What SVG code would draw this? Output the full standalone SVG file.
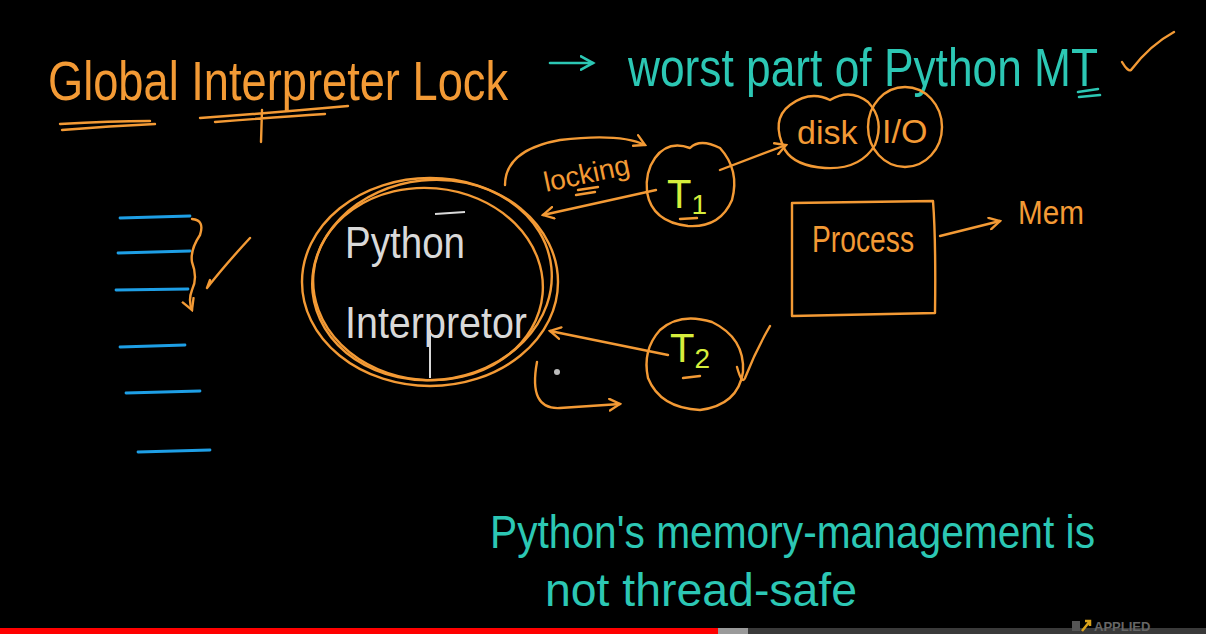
<svg xmlns="http://www.w3.org/2000/svg" width="1206" height="634" viewBox="0 0 1206 634">
<defs>
<style>
.o{fill:none;stroke:#F39A35;stroke-width:2.4;stroke-linecap:round;stroke-linejoin:round}
.t{fill:none;stroke:#2CC7B4;stroke-width:2.6;stroke-linecap:round;stroke-linejoin:round}
.b{fill:none;stroke:#1E9FE6;stroke-width:2.8;stroke-linecap:round}
.txo{fill:#F39A35;font-family:"Liberation Sans",sans-serif}
.txt{fill:#2CC7B4;font-family:"Liberation Sans",sans-serif}
.txw{fill:#D9D9D9;font-family:"Liberation Sans",sans-serif}
.txy{fill:#D6EE3C;font-family:"Liberation Sans",sans-serif}
</style>
<marker id="ah" viewBox="0 0 12 12" refX="10" refY="6" markerWidth="14" markerHeight="14" markerUnits="userSpaceOnUse" orient="auto">
<path d="M1,1 L10,6 L1,11" fill="none" stroke="#F39A35" stroke-width="2" stroke-linecap="round"/>
</marker>
<marker id="aht" viewBox="0 0 12 12" refX="10" refY="6" markerWidth="16" markerHeight="16" markerUnits="userSpaceOnUse" orient="auto">
<path d="M1,1 L10,6 L1,11" fill="none" stroke="#2CC7B4" stroke-width="2" stroke-linecap="round"/>
</marker>
</defs>
<rect width="1206" height="634" fill="#000"/>

<g id="title">
<text class="txo" x="48" y="100" font-size="56" textLength="460" lengthAdjust="spacingAndGlyphs">Global Interpreter Lock</text>
<path class="o" d="M60,124 Q110,121 150,121 M62,130 Q110,126 155,124"/>
<path class="o" d="M200,118 Q270,113 348,106 M215,122 Q280,117 325,114 M262,110 L261,142"/>
</g>

<g id="headline">
<path class="t" d="M550,63 L593,63" marker-end="url(#aht)"/>
<text class="txt" x="628" y="86" font-size="54" textLength="470" lengthAdjust="spacingAndGlyphs">worst part of Python MT</text>
<path class="t" d="M1078,92 L1098,89 M1079,97 L1100,95"/>
<path class="o" d="M1122,62 Q1128,72 1131,70 Q1150,45 1174,32"/>
</g>

<g id="disk-io">
<path class="o" d="M785,150 Q770,120 790,105 Q810,90 830,100 Q850,88 868,102 Q885,120 875,145 Q860,170 825,168 Q795,166 785,150 Z"/>
<ellipse class="o" cx="905" cy="127" rx="37" ry="40"/>
<text class="txo" x="797" y="144" font-size="34">disk</text>
<text class="txo" x="882" y="143" font-size="34">I/O</text>
</g>

<g id="interpreter">
<ellipse class="o" cx="430" cy="282" rx="128" ry="104"/>
<ellipse class="o" cx="432" cy="280" rx="120" ry="100" transform="rotate(-6 432 280)"/>
<ellipse class="o" cx="428" cy="284" rx="115" ry="96" transform="rotate(5 428 284)"/>
<text class="txw" x="345" y="258" font-size="44" textLength="120" lengthAdjust="spacingAndGlyphs">Python</text>
<path d="M435,214 L465,212" stroke="#D9D9D9" stroke-width="2" fill="none"/>
<text class="txw" x="345" y="338" font-size="44" textLength="182" lengthAdjust="spacingAndGlyphs">Interpretor</text>
<path d="M430,330 L430,378" stroke="#D9D9D9" stroke-width="2" fill="none"/>
</g>

<g id="T1">
<path class="o" d="M655,158 Q668,140 690,148 Q700,138 720,148 Q740,170 732,200 Q720,228 688,226 Q652,222 647,192 Q645,172 655,158 Z"/>
<text class="txy" x="667" y="208" font-size="40">T<tspan font-size="28" dy="6">1</tspan></text>
<path class="o" d="M680,219 L697,218"/>
</g>

<g id="T2">
<path class="o" d="M660,330 Q680,312 712,322 Q745,338 743,372 Q738,405 700,410 Q660,408 648,378 Q642,350 660,330 Z"/>
<text class="txy" x="670" y="362" font-size="40">T<tspan font-size="28" dy="6">2</tspan></text>
<path class="o" d="M683,378 L700,376"/>
<path class="o" d="M737,367 Q742,385 745,378 Q756,350 770,326"/>
</g>

<g id="process">
<path class="o" d="M792,203 L933,201 Q936,240 935,313 L792,316 Z"/>
<text class="txo" x="812" y="252" font-size="36" textLength="102" lengthAdjust="spacingAndGlyphs">Process</text>
<text class="txo" x="1018" y="224" font-size="34" textLength="66" lengthAdjust="spacingAndGlyphs">Mem</text>
</g>

<g id="lines">
<path class="b" d="M120,218 L190,216 M118,253 L190,251 M116,290 L188,289 M120,347 L185,345 M126,393 L200,391 M138,452 L210,450"/>
<path class="o" d="M192,219 Q205,220 200,235 Q190,250 192,262 Q198,278 192,290 Q188,300 192,310" marker-end="url(#ah)"/>
<path class="o" d="M207,288 L210,280 M207,288 Q225,265 250,238"/>
</g>

<g id="connectors">
<path class="o" d="M505,185 Q505,150 560,140 Q620,133 645,145" marker-end="url(#ah)"/>
<text class="txo" x="546" y="192" font-size="28" transform="rotate(-12 546 192)">locking</text>
<path class="o" d="M578,190 L598,187 M576,195 L595,192"/>
<path class="o" d="M720,170 L786,145" marker-end="url(#ah)"/>
<path class="o" d="M656,190 L543,215" marker-end="url(#ah)"/>
<path class="o" d="M668,355 L550,331" marker-end="url(#ah)"/>
<path class="o" d="M940,236 L1000,221" marker-end="url(#ah)"/>
<path class="o" d="M537,362 Q528,410 560,408 Q590,406 620,404" marker-end="url(#ah)"/>
<circle cx="557" cy="372" r="3" fill="#BBBBBB"/>
</g>

<g id="note">
<text class="txt" x="490" y="548" font-size="46" textLength="605" lengthAdjust="spacingAndGlyphs">Python's memory-management is</text>
<text class="txt" x="545" y="606" font-size="46" textLength="312" lengthAdjust="spacingAndGlyphs">not thread-safe</text>
</g>

<g id="progress">
<rect x="0" y="628" width="718" height="6" fill="#FF0000"/>
<rect x="718" y="628" width="30" height="6" fill="#9A9A9A"/>
<rect x="748" y="628" width="458" height="6" fill="#3A3A3A"/>
<rect x="1072" y="621" width="8" height="10" fill="#555"/>
<path d="M1082,631 L1090,621 M1085,621 L1090,621 L1090,626" stroke="#D9A21B" stroke-width="2.5" fill="none"/>
<text x="1094" y="631" font-family="Liberation Sans,sans-serif" font-size="13" font-weight="bold" fill="#666">APPLIED</text>
</g>
</svg>
